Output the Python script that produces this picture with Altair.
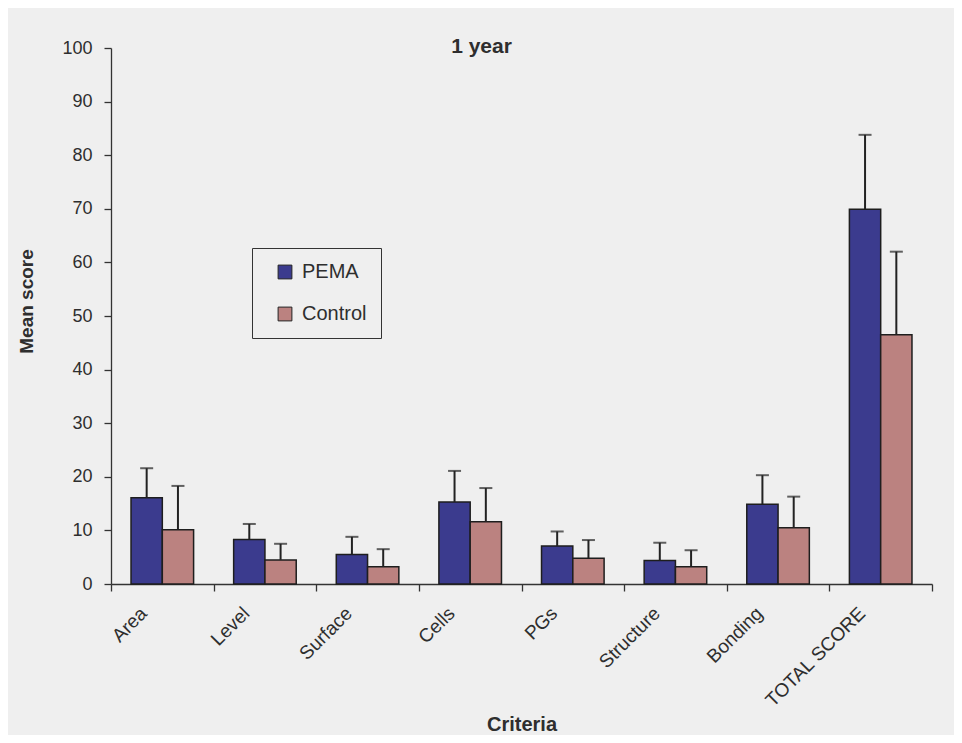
import altair as alt
import pandas as pd

criteria = ["Area", "Level", "Surface", "Cells", "PGs", "Structure", "Bonding", "TOTAL SCORE"]
groups = ["PEMA", "Control"]
pema_mean = [16.1, 8.3, 5.5, 15.3, 7.1, 4.4, 14.9, 69.9]
pema_sd = [5.5, 2.9, 3.3, 5.8, 2.7, 3.3, 5.4, 13.9]
control_mean = [10.1, 4.5, 3.2, 11.6, 4.8, 3.2, 10.5, 46.5]
control_sd = [8.2, 3.0, 3.3, 6.3, 3.4, 3.1, 5.8, 15.5]

rows = []
for i, c in enumerate(criteria):
    rows.append({"Criteria": c, "Group": "PEMA", "Mean": pema_mean[i],
                 "Upper": pema_mean[i] + pema_sd[i]})
    rows.append({"Criteria": c, "Group": "Control", "Mean": control_mean[i],
                 "Upper": control_mean[i] + control_sd[i]})
df = pd.DataFrame(rows)

BG = "#efefef"
INK = "#2e2e2e"
FONT = "Liberation Sans"

x = alt.X(
    "Criteria:N",
    sort=criteria,
    scale=alt.Scale(paddingInner=0, paddingOuter=0),
    axis=alt.Axis(
        title="Criteria",
        labelAngle=-45,
        labelAlign="right",
        labelBaseline="middle",
        labelOffset=-19,
        labelPadding=19,
        labelFontSize=19,
        tickBand="extent",
        tickSize=7,
        titleFontSize=20,
        titleFontWeight="bold",
        titleY=130,
        titleBaseline="top",
    ),
)
xo = alt.XOffset("Group:N", sort=groups,
                 scale=alt.Scale(domain=groups, paddingOuter=0.64, paddingInner=0))
y = alt.Y(
    "Mean:Q",
    scale=alt.Scale(domain=[0, 100], nice=False),
    axis=alt.Axis(
        values=list(range(0, 101, 10)),
        grid=False,
        title="Mean score",
        titleFontSize=19,
        titleFontWeight="bold",
        titleX=-85,
        titleY=253,
        titleAngle=-90,
        titleBaseline="middle",
        tickSize=7,
        labelPadding=12,
        labelFontSize=18,
    ),
)
color = alt.Color(
    "Group:N",
    sort=groups,
    scale=alt.Scale(domain=groups, range=["#3b3b8e", "#bb8280"]),
    legend=alt.Legend(
        title=None,
        orient="none",
        legendX=141,
        legendY=200,
        strokeColor="#333333",
        fillColor=BG,
        padding=14,
        symbolType="square",
        symbolSize=190,
        symbolStrokeColor="#222222",
        symbolStrokeWidth=1,
        symbolOpacity=1,
        symbolOffset=9,
        labelFontSize=20,
        labelOffset=7,
        rowPadding=22,
    ),
)

bars = alt.Chart(df).mark_bar(stroke="#1e1e1e", strokeWidth=1.5).encode(
    x=x, xOffset=xo, y=y, color=color
)
err = alt.Chart(df).mark_rule(color="#222222", strokeWidth=2).encode(
    x=x, xOffset=xo, y="Mean:Q", y2="Upper:Q"
)
caps = alt.Chart(df).mark_tick(color="#222222", thickness=2, size=13,
                               orient="horizontal").encode(
    x=x, xOffset=xo, y="Upper:Q"
)

chart = (
    alt.layer(bars, err, caps)
    .properties(
        width=821,
        height=536,
        padding={"left": 103, "top": 40, "right": 22, "bottom": 151},
        autosize=alt.AutoSizeParams(type="none"),
        title=alt.TitleParams(
            "1 year", fontSize=21, fontWeight="bold", anchor="middle",
            frame="group", dx=-40, dy=35, offset=0, baseline="alphabetic",
            color=INK, font=FONT,
        ),
    )
    .configure(background=BG, font=FONT)
    .configure_view(stroke=None)
    .configure_axis(
        domainColor="#333333", tickColor="#333333", domainWidth=1.3, tickWidth=1.3,
        labelColor=INK, titleColor=INK, labelFont=FONT, titleFont=FONT,
    )
    .configure_legend(labelColor=INK, labelFont=FONT)
)

chart.save("out.html", embed_options={"renderer": "svg", "actions": False})
